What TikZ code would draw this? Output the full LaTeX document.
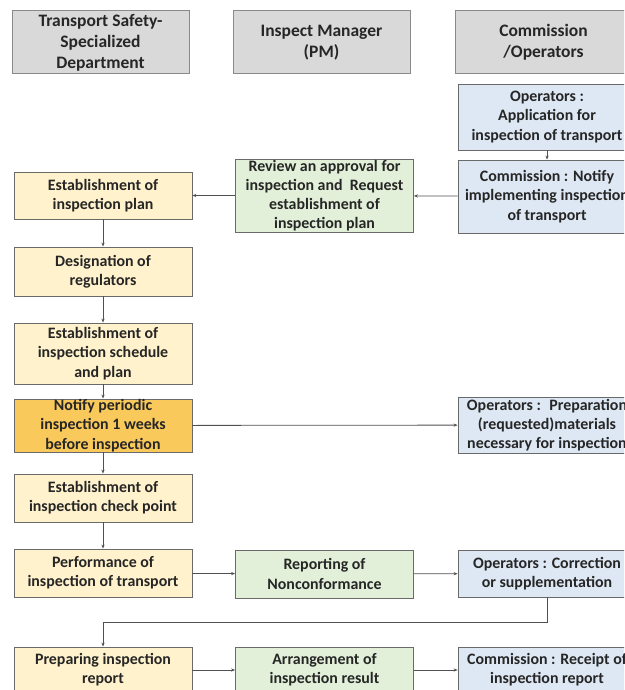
\documentclass[tikz,border=0pt]{standalone}
\usepackage{fontspec}
\setmainfont{Carlito}
\usetikzlibrary{arrows.meta,positioning,calc}
\definecolor{hdrfill}{HTML}{D9D9D9}
\definecolor{hdrline}{HTML}{8A8A8A}
\definecolor{boxline}{HTML}{6A6A6A}
\definecolor{safefill}{HTML}{FFF2CC}
\definecolor{notefill}{HTML}{F9C95B}
\definecolor{pmfill}{HTML}{E2F0D9}
\definecolor{opfill}{HTML}{DEE8F4}
\definecolor{txt}{HTML}{262626}
\definecolor{wire}{HTML}{505050}

\begin{document}
\begin{tikzpicture}[x=1pt,y=-1pt,
  header/.style={rectangle,draw=hdrline,line width=1pt,fill=hdrfill,minimum width=177pt,minimum height=63pt,
    inner sep=0pt,align=center,text=txt,font=\fontsize{17.5}{21}\selectfont\bfseries},
  stage/.style={rectangle,draw=boxline,line width=0.8pt,minimum width=178pt,inner sep=0pt,
    align=center,text=txt,font=\fontsize{15.9}{19.2}\selectfont\bfseries},
  safety/.style={stage,fill=safefill},
  notice/.style={stage,fill=notefill},
  manager/.style={stage,fill=pmfill},
  operator/.style={stage,fill=opfill},
  edge/.style={wire,line width=0.8pt,-{Stealth[length=4pt,width=3.2pt]}}]
\useasboundingbox (0,0) rectangle (624,690);
\clip (0,0) rectangle (624,690);
% column headers
\node (hsafe)[header] at (100.5,42.5) {Transport Safety-\\Specialized\\Department};
\node (hpm)[header] at (321.5,42.5) {Inspect Manager\\(PM)};
\node (hop)[header] at (543.5,42.5) {Commission\\/Operators};
% transport safety-specialized department
\node (plan)[safety,minimum height=47pt] at (103,195.5) {Establishment of\\inspection plan};
\node (desig)[safety,minimum height=49pt] at (103,271.5) {Designation of\\regulators};
\node (sched)[safety,minimum height=61pt] at (103,353.5) {Establishment of\\inspection schedule\\and plan};
\node (notify)[notice,minimum height=53pt] at (103,425.5) {Notify periodic\\inspection 1 weeks\\before inspection};
\node (check)[safety,minimum height=48pt] at (103,498) {Establishment of\\inspection check point};
\node (perform)[safety,minimum height=48pt] at (103,573) {Performance of\\inspection of transport};
\node (prepare)[safety,minimum height=46pt] at (103,670) {Preparing inspection\\report};
% inspect manager
\node (review)[manager,minimum height=73pt] at (324.5,195.5) {Review an approval for\\inspection and~ Request\\establishment of\\inspection plan};
\node (report)[manager,minimum height=48pt] at (324.5,574) {Reporting of\\Nonconformance};
\node (arrange)[manager,minimum height=46pt] at (324.5,670) {Arrangement of\\inspection result};
% commission / operators
\node (apply)[operator,minimum height=66pt] at (547,117) {Operators :\\Application for\\inspection of transport};
\node (cnotify)[operator,minimum height=73pt] at (547,196.5) {Commission : Notify\\implementing inspection\\of transport};
\node (prep)[operator,minimum height=56pt] at (547,425) {Operators :~ Preparation\\(requested)materials\\necessary for inspection};
\node (correct)[operator,minimum height=47pt] at (547,573.5) {Operators : Correction\\or supplementation};
\node (receipt)[operator,minimum height=46pt] at (547,670) {Commission : Receipt of\\inspection report};
\coordinate (turn) at (0,622);

\draw [edge] (apply) to (cnotify);
\draw [edge] (cnotify) to (review);
\draw [edge] (review) to (plan);
\draw [edge] (plan) to (desig);
\draw [edge] (desig) to (sched);
\draw [edge] (sched) to (notify);
\draw [edge] (notify) to (prep);
\draw [edge] (notify) to (check);
\draw [edge] (check) to (perform);
\draw [edge] (perform) to (report);
\draw [edge] (report) to (correct);
\draw [edge] (correct.south) -- (correct.south |- turn) -| (prepare.north);
\draw [edge] (prepare) to (arrange);
\draw [edge] (arrange) to (receipt);
\end{tikzpicture}
\end{document}
